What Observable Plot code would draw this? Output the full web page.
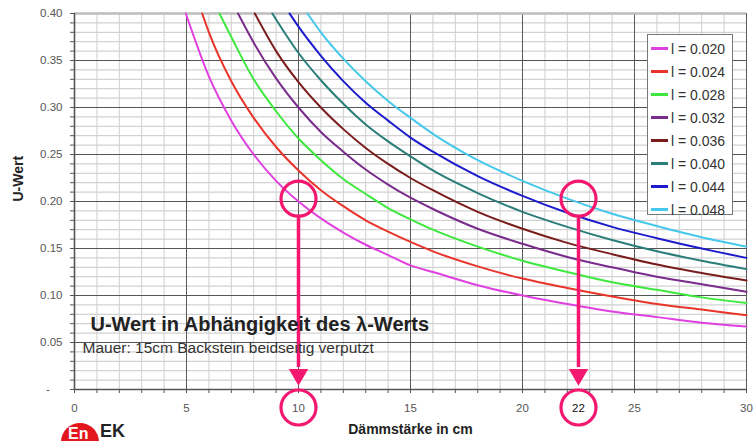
<!DOCTYPE html>
<html>
<head>
<meta charset="utf-8">
<script src="https://cdn.jsdelivr.net/npm/d3@7"></script>
<script src="https://cdn.jsdelivr.net/npm/@observablehq/plot@0.6"></script>
<style>
  html, body { margin: 0; padding: 0; background: #fff; }
  #wrap { position: relative; width: 753px; height: 441px; overflow: hidden; background: #fff; font-family: "Liberation Sans", Arial, sans-serif; }
  #legend { position: absolute; left: 647px; top: 34px; width: 86px; height: 181px; background: #fff; border: 1px solid #777; box-sizing: border-box; padding-top: 2px; }
  .item { height: 23px; display: flex; align-items: center; font-size: 14px; color: #333; }
  .sw { width: 17px; height: 3px; margin: 0 3px 0 3px; }
  #logo { position: absolute; left: 61px; top: 423px; width: 38px; height: 38px; border-radius: 50%; background: #e3161e; }
  #logo span { position: absolute; left: 7px; top: 2px; color: #fff; font-weight: bold; font-size: 16px; }
  #logoText { position: absolute; left: 100px; top: 421px; font-weight: bold; font-size: 18px; color: #222; }
</style>
</head>
<body>
<div id="wrap">
  <div id="chart"></div>
  <div id="legend"></div>
  <div id="logo"><span>En</span></div>
  <div id="logoText">EK</div>
</div>
<script>
// ---- data ----
const seriesLabels = ["l = 0.020", "l = 0.024", "l = 0.028", "l = 0.032", "l = 0.036", "l = 0.040", "l = 0.044", "l = 0.048"];
const seriesColors = ["#e040e0", "#e8342a", "#3ee83e", "#7a2c8c", "#7a1c1c", "#2a7d78", "#1c1ccc", "#45c8ec"];

const lam020_d = [4.97, 6, 7, 8, 9, 10, 11, 12, 13, 14, 15, 16, 18, 20, 22, 24, 26, 28, 30];
const lam020_u = [0.400, 0.333, 0.286, 0.250, 0.222, 0.200, 0.182, 0.167, 0.154, 0.143, 0.132, 0.125, 0.111, 0.100, 0.091, 0.083, 0.077, 0.071, 0.067];
const lam024_d = [5.7, 6, 7, 8, 9, 10, 11, 12, 13, 14, 15, 16, 18, 20, 22, 24, 26, 28, 30];
const lam024_u = [0.400, 0.380, 0.328, 0.289, 0.258, 0.233, 0.212, 0.195, 0.180, 0.168, 0.157, 0.147, 0.131, 0.118, 0.108, 0.099, 0.091, 0.085, 0.079];
const lam028_d = [6.47, 7, 8, 9, 10, 11, 12, 13, 14, 15, 16, 18, 20, 22, 24, 26, 28, 30];
const lam028_u = [0.400, 0.375, 0.330, 0.296, 0.267, 0.244, 0.224, 0.208, 0.193, 0.181, 0.170, 0.152, 0.137, 0.125, 0.114, 0.106, 0.098, 0.092];
const lam032_d = [7.3, 8, 9, 10, 11, 12, 13, 14, 15, 16, 18, 20, 22, 24, 26, 28, 30];
const lam032_u = [0.400, 0.369, 0.331, 0.300, 0.274, 0.253, 0.234, 0.218, 0.204, 0.192, 0.171, 0.155, 0.141, 0.130, 0.120, 0.112, 0.104];
const lam036_d = [8.05, 9, 10, 11, 12, 13, 14, 15, 16, 18, 20, 22, 24, 26, 28, 30];
const lam036_u = [0.400, 0.360, 0.327, 0.300, 0.277, 0.257, 0.240, 0.225, 0.212, 0.189, 0.171, 0.156, 0.144, 0.133, 0.124, 0.116];
const lam040_d = [8.83, 10, 11, 12, 13, 14, 15, 16, 18, 20, 22, 24, 26, 28, 30];
const lam040_u = [0.400, 0.358, 0.329, 0.304, 0.282, 0.264, 0.248, 0.233, 0.209, 0.189, 0.173, 0.159, 0.147, 0.137, 0.128];
const lam044_d = [9.6, 10, 11, 12, 13, 14, 15, 16, 18, 20, 22, 24, 26, 28, 30];
const lam044_u = [0.400, 0.386, 0.355, 0.328, 0.305, 0.286, 0.268, 0.253, 0.227, 0.206, 0.188, 0.173, 0.161, 0.150, 0.140];
const lam048_d = [10.4, 11, 12, 13, 14, 15, 16, 18, 20, 22, 24, 26, 28, 30];
const lam048_u = [0.400, 0.380, 0.352, 0.328, 0.307, 0.289, 0.272, 0.244, 0.222, 0.203, 0.187, 0.174, 0.162, 0.152];

const xTicks = [0, 5, 10, 15, 20, 25, 30];
const xTickLabels = ["0", "5", "10", "15", "20", "25", "30"];
const yTicks = [0, 0.05, 0.10, 0.15, 0.20, 0.25, 0.30, 0.35, 0.40];
const yTickLabels = ["-\u2007\u2007", "0.05", "0.10", "0.15", "0.20", "0.25", "0.30", "0.35", "0.40"];

// annotation (pink circles + arrows)
const markX = [10, 22.5];
const markU = [0.203, 0.203];
const markLabel = ["", "22"];

const titleText = "U-Wert in Abhängigkeit des λ-Werts";
const subtitleText = "Mauer: 15cm Backstein beidseitig verputzt";
const xLabel = "Dämmstärke in cm";
const yLabel = "U-Wert";

// ---- build table ----
const dArrays = [lam020_d, lam024_d, lam028_d, lam032_d, lam036_d, lam040_d, lam044_d, lam048_d];
const uArrays = [lam020_u, lam024_u, lam028_u, lam032_u, lam036_u, lam040_u, lam044_u, lam048_u];
const rows = [];
seriesLabels.forEach((s, k) => dArrays[k].forEach((d, i) => rows.push({series: s, d, u: uArrays[k][i]})));
const marks = markX.map((x, i) => ({x, u: markU[i], label: markLabel[i]}));

const xMinor = d3.range(0, 31);
const yMinor = d3.range(0, 41).map(i => i / 100);
const xMajor = xTicks.slice(1);
const yMajor = yTicks.slice(1, -1);
const yFmt = new Map(yTicks.map((t, i) => [t, yTickLabels[i]]));
const xFmt = new Map(xTicks.map((t, i) => [t, xTickLabels[i]]));
const pink = "#f3176f";

const chart = Plot.plot({
  width: 753,
  height: 441,
  marginLeft: 74,
  marginRight: 7,
  marginTop: 13,
  marginBottom: 52,
  x: {domain: [0, 30], label: null},
  y: {domain: [0, 0.4], label: null},
  color: {domain: seriesLabels, range: seriesColors},
  style: {fontFamily: "'Liberation Sans', Arial, sans-serif", fontSize: "11.5px", color: "#444", background: "#fff", overflow: "visible"},
  marks: [
    Plot.ruleX(xMinor, {stroke: "#cfcfcf", strokeWidth: 1}),
    Plot.ruleY(yMinor, {stroke: "#d2d2d2", strokeWidth: 1.2}),
    Plot.ruleX(xMajor, {stroke: "#5a5a5a", strokeWidth: 1}),
    Plot.ruleY(yMajor, {stroke: "#555", strokeWidth: 1}),
    Plot.ruleY([0.4], {stroke: "#bdbdbd", strokeWidth: 2.5}),
    Plot.axisX({ticks: xMinor, tickSize: 4, tickFormat: () => "", stroke: "#555", label: null}),
    Plot.axisX({ticks: xTicks, tickSize: 0, tickPadding: 14, tickFormat: d => xFmt.get(d), fill: "#555", label: null}),
    Plot.axisY({ticks: yMinor, tickSize: 4, tickFormat: () => "", stroke: "#555", label: null}),
    Plot.axisY({ticks: yTicks, tickSize: 0, tickPadding: 12, tickFormat: d => yFmt.get(d), fill: "#555", label: null}),
    Plot.ruleY([0], {stroke: "#555", strokeWidth: 1.6}),
    Plot.ruleX([0], {stroke: "#555", strokeWidth: 1.6}),
    Plot.line(rows, {x: "d", y: "u", z: "series", stroke: "series", strokeWidth: 2, curve: "monotone-x"}),
    // annotations
    Plot.dot(marks, {x: "x", y: "u", r: 17.5, stroke: pink, strokeWidth: 3.2, fill: "none"}),
    Plot.ruleX(marks, {x: "x", y1: "u", y2: 0, stroke: pink, strokeWidth: 3.5, insetTop: 19, insetBottom: 22}),
    Plot.dot(marks, {x: "x", y: 0, symbol: "triangle", r: 7.2, fill: pink, rotate: 180, dy: -15}),
    Plot.dot(marks, {x: "x", y: 0, r: 17.5, dy: 18, stroke: pink, strokeWidth: 3.2, fill: "none"}),
    Plot.text(marks, {x: "x", y: 0, text: "label", dy: 19, fill: "#111", fontSize: 11.5}),
    // texts
    Plot.text([titleText], {frameAnchor: "bottom-left", dx: 16, dy: -59, textAnchor: "start", fontSize: 20, fontWeight: "bold", fill: "#222"}),
    Plot.text([subtitleText], {frameAnchor: "bottom-left", dx: 8, dy: -37, textAnchor: "start", fontSize: 15.5, fill: "#333"}),
    Plot.text([xLabel], {frameAnchor: "bottom", dy: 44, fontSize: 14, fontWeight: "bold", fill: "#222"}),
    Plot.text([yLabel], {frameAnchor: "left", dx: -56, rotate: -90, fontSize: 14, fontWeight: "bold", fill: "#222"})
  ]
});
document.getElementById("chart").appendChild(chart);

// legend
const leg = document.getElementById("legend");
seriesLabels.forEach((s, i) => {
  const it = document.createElement("div");
  it.className = "item";
  it.innerHTML = `<div class="sw" style="background:${seriesColors[i]}"></div><span>${s}</span>`;
  leg.appendChild(it);
});
</script>
</body>
</html>
